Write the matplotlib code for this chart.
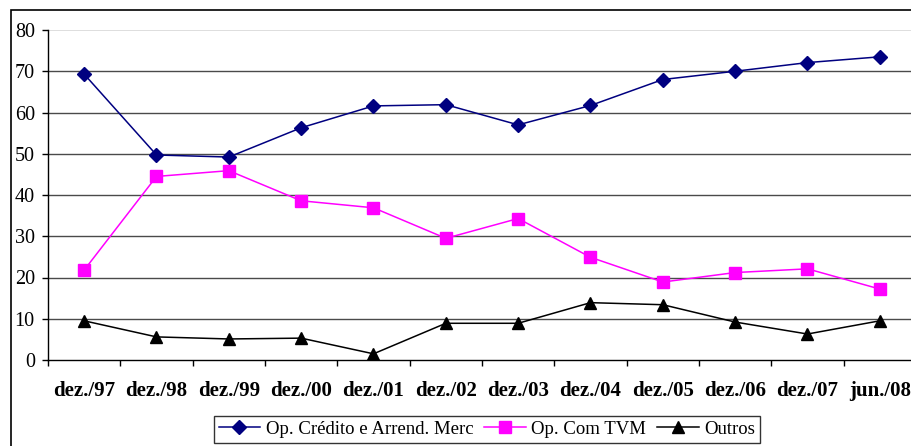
import matplotlib.pyplot as plt
from matplotlib.patches import Rectangle
from matplotlib.ticker import MultipleLocator, FixedLocator

plt.rcParams['font.family'] = ['Liberation Serif', 'DejaVu Serif']

periods = ['dez./97', 'dez./98', 'dez./99', 'dez./00', 'dez./01', 'dez./02',
           'dez./03', 'dez./04', 'dez./05', 'dez./06', 'dez./07', 'jun./08']
credito = [69.3, 49.7, 49.2, 56.3, 61.6, 61.9, 57.0, 61.7, 68.0, 70.0, 72.1, 73.5]
tvm = [21.8, 44.5, 45.9, 38.6, 36.9, 29.5, 34.3, 24.9, 18.9, 21.2, 22.1, 17.2]
outros = [9.5, 5.6, 5.1, 5.3, 1.5, 8.9, 8.9, 13.9, 13.4, 9.2, 6.3, 9.5]

fig = plt.figure(figsize=(9.12, 4.46), dpi=100)

# outer chart frame
fig.patches.append(Rectangle((11 / 912, -0.1), 1.2, 1 - 10 / 446 + 0.1,
                             transform=fig.transFigure, fill=False,
                             edgecolor='black', linewidth=1.2, zorder=0))

ax = fig.add_axes([48 / 912, 1 - 360 / 446, 868 / 912, 330 / 446])
x = list(range(len(periods)))

ax.plot(x, credito, color='#000080', marker='D', markersize=7.5, linewidth=1.1,
        label='Op. Crédito e Arrend. Merc', zorder=3)
ax.plot(x, tvm, color='#FF00FF', marker='s', markersize=8.5, linewidth=1.1,
        label='Op. Com TVM', zorder=3)
ax.plot(x, outros, color='black', marker='^', markersize=8.5, linewidth=1.1,
        label='Outros', zorder=3)

ax.set_xlim(-0.5, len(periods) - 0.5)
ax.set_ylim(0, 80)
ax.yaxis.set_major_locator(MultipleLocator(10))
for v in range(10, 80, 10):
    ax.axhline(v, color='#4a4a4a', linewidth=1.0, zorder=1)
ax.axhline(80, color='#d8d8d8', linewidth=1.2, zorder=1)

ax.set_xticks(x)
ax.set_xticklabels(periods, fontsize=15, fontweight='bold')
ax.xaxis.set_minor_locator(FixedLocator([i - 0.5 for i in range(len(periods) + 1)]))
ax.tick_params(axis='x', which='major', length=0, pad=15)
ax.tick_params(axis='x', which='minor', length=4.5, direction='out', width=1)
ax.tick_params(axis='y', length=4.5, direction='out', width=1, labelsize=14.5, pad=5)

for side in ['top', 'right']:
    ax.spines[side].set_visible(False)
for side in ['left', 'bottom']:
    ax.spines[side].set_linewidth(1.0)
    ax.spines[side].set_zorder(4)

leg = fig.legend(loc='upper center', bbox_to_anchor=(487 / 912, 1 - 416 / 446),
                 ncol=3, fontsize=13.5, frameon=True, fancybox=False,
                 edgecolor='black', handlelength=2.2, columnspacing=0.6,
                 handletextpad=0.3, borderpad=0.25, borderaxespad=0)
leg.get_frame().set_linewidth(1.0)

fig.savefig('out.png', dpi=100)
